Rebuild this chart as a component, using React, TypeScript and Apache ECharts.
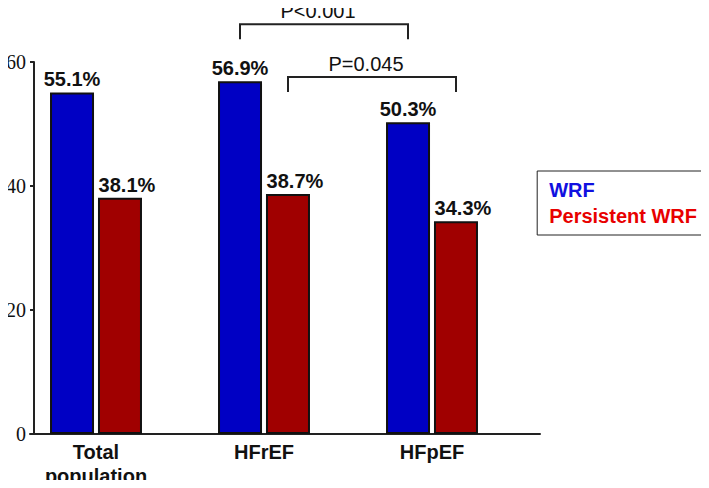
import React, { useEffect, useRef } from "react";
import * as echarts from "echarts";

const categories = ["Total\npopulation", "HFrEF", "HFpEF"];
const seriesNames = ["WRF", "Persistent WRF"];
const wrfValues = [55.1, 56.9, 50.3];
const persistentValues = [38.1, 38.7, 34.3];
const yTicks = [0, 20, 40, 60];
// comparisons: [fromCategory, toCategory, bracketHeightValue, seriesIndex]
const comparisons = [
  [1, 2, 66.1, 0],
  [1, 2, 57.6, 1],
];
const comparisonLabels = ["P<0.001", "P=0.045"];

const SANS = 'Arial, "Liberation Sans", sans-serif';
const SERIF = '"Times New Roman", "Liberation Serif", serif';
const BLUE = "#0000c4";
const RED = "#a00000";

export default function App() {
  const ref = useRef<HTMLDivElement>(null);
  useEffect(() => {
    if (!ref.current) return;
    const chart = echarts.init(ref.current, undefined, { renderer: "svg" });
    const barW = 44;
    const half = 24;
    chart.setOption({
      animation: false,
      backgroundColor: "#fff",
      legend: {
        orient: "vertical",
        right: 1,
        top: 171,
        icon: "rect",
        itemWidth: 0,
        itemHeight: 0,
        itemGap: 4,
        padding: [8, 11, 8, 6],
        borderColor: "#222",
        borderWidth: 1,
        selectedMode: false,
        textStyle: { fontFamily: SANS, fontSize: 20, fontWeight: "bold", lineHeight: 22 },
        data: [
          { name: seriesNames[0], textStyle: { color: "#1010e0" } },
          { name: seriesNames[1], textStyle: { color: "#e80000" } },
        ],
      },
      grid: [
        { left: 30, right: 169, top: 62, bottom: 54, containLabel: false },
        { left: 12, right: 193, top: 62, bottom: 54, containLabel: false },
      ],
      xAxis: [
        {
          type: "value",
          gridIndex: 0,
          min: 0,
          max: 1,
          axisLine: { show: true, lineStyle: { color: "#222", width: 2 } },
          axisTick: { show: false },
          axisLabel: { show: false },
          splitLine: { show: false },
        },
        {
          type: "category",
          gridIndex: 1,
          data: categories,
          axisLine: { show: false },
          axisTick: { show: false },
          axisLabel: {
            margin: 6,
            color: "#111",
            fontFamily: SANS,
            fontSize: 20,
            fontWeight: "bold",
            lineHeight: 24,
          },
        },
      ],
      yAxis: [
        {
          type: "value",
          gridIndex: 0,
          min: 0,
          max: 60,
          interval: 20,
          offset: -4,
          axisLine: { show: true, lineStyle: { color: "#222", width: 2 } },
          axisTick: { show: true, length: 4, lineStyle: { color: "#222", width: 2 } },
          axisLabel: {
            margin: 8,
            color: "#111",
            fontFamily: SERIF,
            fontSize: 20,
            formatter: (v: number) => (yTicks.includes(v) ? String(v) : ""),
          },
          splitLine: { show: false },
        },
        {
          type: "value",
          gridIndex: 1,
          min: 0,
          max: 60,
          show: false,
        },
      ],
      series: [
        {
          name: seriesNames[0],
          type: "bar",
          xAxisIndex: 1,
          yAxisIndex: 1,
          data: wrfValues,
          barWidth: barW,
          barGap: "9%",
          itemStyle: { color: BLUE, borderColor: "#111", borderWidth: 2 },
          label: {
            show: true,
            position: "top",
            distance: 3,
            formatter: (p: any) => p.value.toFixed(1) + "%",
            color: "#111",
            fontFamily: SANS,
            fontSize: 20,
            fontWeight: "bold",
          },
        },
        {
          name: seriesNames[1],
          type: "bar",
          xAxisIndex: 1,
          yAxisIndex: 1,
          data: persistentValues,
          barWidth: barW,
          barGap: "9%",
          itemStyle: { color: RED, borderColor: "#111", borderWidth: 2 },
          label: {
            show: true,
            position: "top",
            distance: 3,
            offset: [7, 0],
            formatter: (p: any) => p.value.toFixed(1) + "%",
            color: "#111",
            fontFamily: SANS,
            fontSize: 20,
            fontWeight: "bold",
          },
        },
        {
          type: "custom",
          xAxisIndex: 1,
          yAxisIndex: 1,
          clip: false,
          silent: true,
          data: comparisons,
          renderItem: (params: any, api: any) => {
            const side = api.value(3) === 0 ? -half : half;
            const a = api.coord([api.value(0), api.value(2)]);
            const b = api.coord([api.value(1), api.value(2)]);
            const x0 = a[0] + side;
            const x1 = b[0] + side;
            const y = a[1];
            const leg = 15;
            return {
              type: "group",
              children: [
                {
                  type: "polyline",
                  shape: {
                    points: [
                      [x0, y + leg],
                      [x0, y],
                      [x1, y],
                      [x1, y + leg],
                    ],
                  },
                  style: { stroke: "#222", lineWidth: 2, fill: "none" },
                },
                {
                  type: "text",
                  style: {
                    text: comparisonLabels[params.dataIndex],
                    x: (x0 + x1) / 2 - 6,
                    y: y - 3,
                    align: "center",
                    verticalAlign: "bottom",
                    fontFamily: SANS,
                    fontSize: 20,
                    fill: "#111",
                  },
                },
              ],
            };
          },
        },
      ],
    });
    return () => chart.dispose();
  }, []);
  return <div ref={ref} style={{ width: 709, height: 488, margin: -8 }} />;
}
